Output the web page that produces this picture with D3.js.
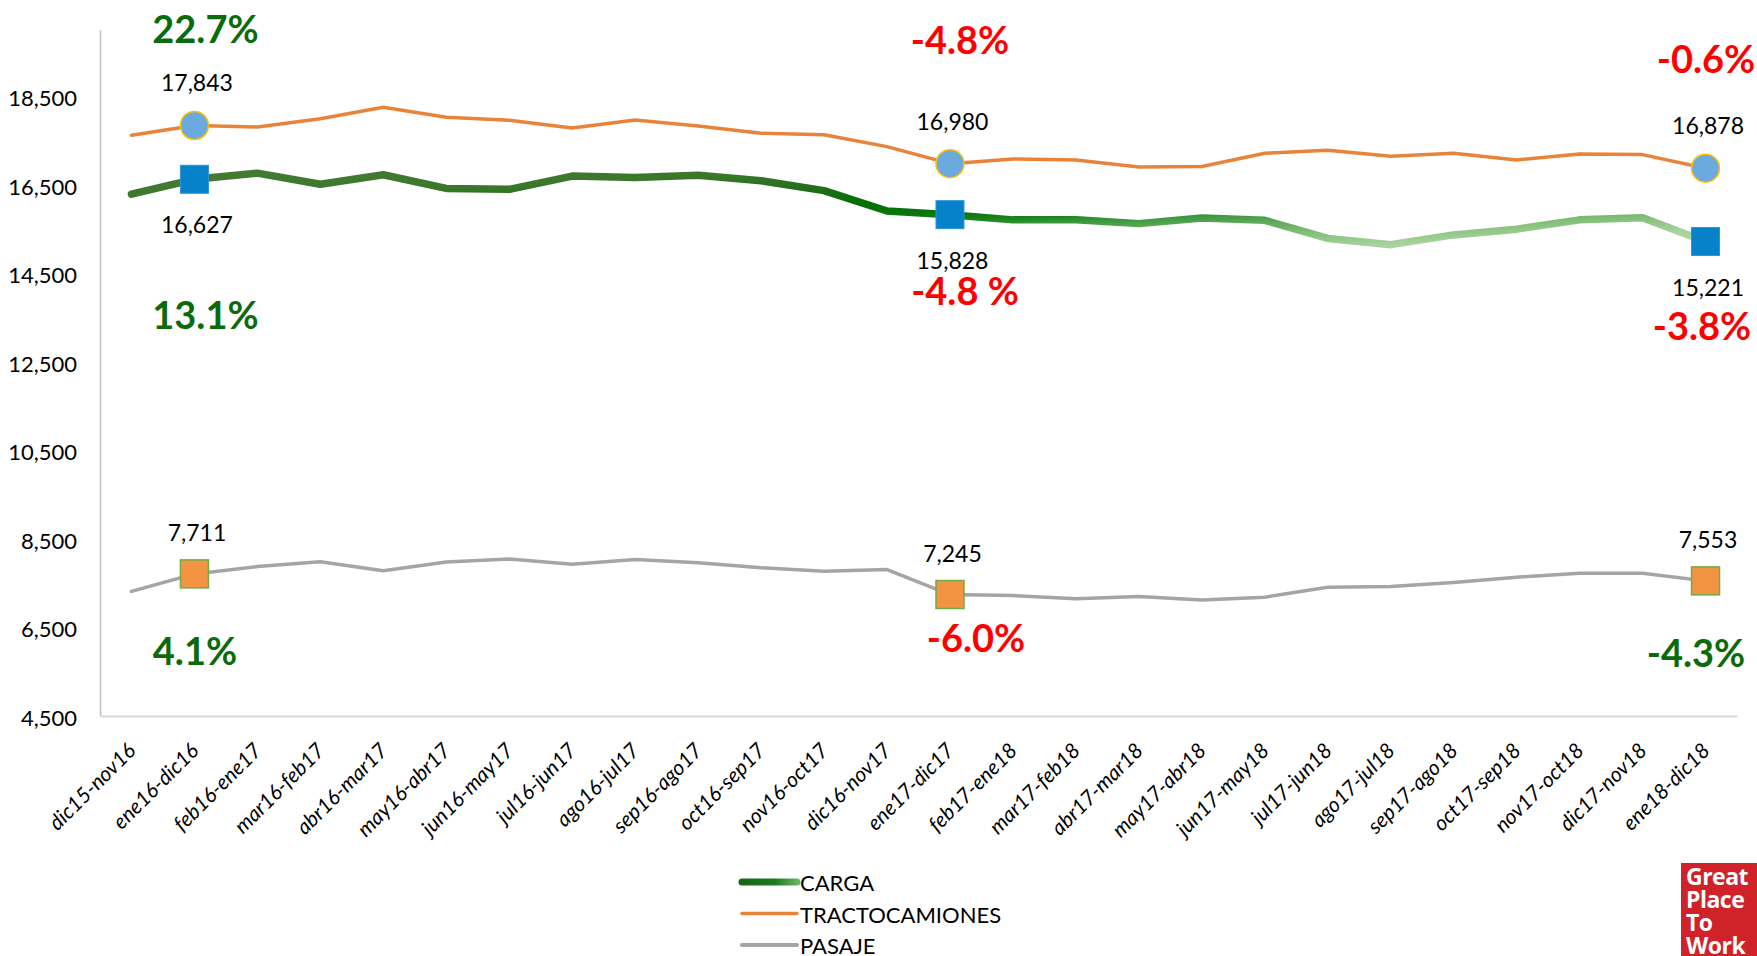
<!DOCTYPE html>
<html>
<head>
<meta charset="utf-8">
<script src="https://cdn.jsdelivr.net/npm/d3@7"></script>
<style>
  body { margin: 0; background: #fff; }
  svg { display: block; font-family: Lato, "Open Sans", sans-serif; }
</style>
</head>
<body>
<svg id="chart"></svg>
<script>
// rolling 12-month periods
const categories = ["dic15-nov16", "ene16-dic16", "feb16-ene17", "mar16-feb17", "abr16-mar17", "may16-abr17",
    "jun16-may17", "jul16-jun17", "ago16-jul17", "sep16-ago17", "oct16-sep17", "nov16-oct17", "dic16-nov17",
    "ene17-dic17", "feb17-ene18", "mar17-feb18", "abr17-mar18", "may17-abr18", "jun17-may18", "jul17-jun18",
    "ago17-jul18", "sep17-ago18", "oct17-sep18", "nov17-oct18", "dic17-nov18", "ene18-dic18"];

const carga = [16290, 16627, 16765, 16515, 16730, 16420, 16400, 16700, 16670, 16720, 16595, 16370, 15910,
    15828, 15710, 15715, 15625, 15750, 15700, 15290, 15150, 15370, 15500, 15710, 15760, 15221];
const tracto = [17620, 17843, 17810, 17995, 18255, 18030, 17960, 17785, 17965, 17830, 17665, 17635, 17365,
    16980, 17085, 17065, 16905, 16915, 17215, 17285, 17150, 17215, 17065, 17200, 17185, 16878];
const pasaje = [7315, 7711, 7876, 7985, 7780, 7982, 8045, 7930, 8035, 7960, 7850, 7772, 7810,
    7245, 7222, 7150, 7200, 7120, 7185, 7410, 7425, 7515, 7636, 7726, 7726, 7553];

const yTicks = [4500, 6500, 8500, 10500, 12500, 14500, 16500, 18500];

// highlighted points and their change labels
const markerIdx = [1, 13, 25];
const tractoPct = ["22.7%", "-4.8%", "-0.6%"];
const cargaPct = ["13.1%", "-4.8 %", "-3.8%"];
const pasajePct = ["4.1%", "-6.0%", "-4.3%"];

const seriesNames = ["CARGA", "TRACTOCAMIONES", "PASAJE"];

const color = {
    tracto: "#e8843a",
    pasaje: "#a5a5a5",
    good: "#0b6b0b",
    bad: "#ff0000",
    circle: "#6aaade",
    blueSq: "#0582ca",
    orangeSq: "#f29441"
};

const W = 1757, H = 956;
const svg = d3.select('#chart').attr('width', W).attr('height', H);

const x = d3.scaleBand().domain(categories).range([100, 1737]);
const y = d3.scaleLinear().domain([4500, 20000]).range([716, 30]);
const px = i => x(categories[i]) + x.bandwidth() / 2;

// gradient for the CARGA line
const defs = svg.append('defs');
const grad = defs.append('linearGradient')
    .attr('id', 'cargaGrad')
    .attr('x1', 0).attr('y1', 0).attr('x2', 1).attr('y2', 1);
[[0, '#457b33'], [0.2, '#3b782b'], [0.32, '#236e1b'], [0.45, '#007000'], [0.55, '#0c780c'],
 [0.6, '#1d861d'], [0.64, '#3c983c'], [0.7, '#5ea95a'], [0.8, '#86c17c'], [0.9, '#a8d39f'], [1, '#b0d8a6']]
    .forEach(s => grad.append('stop').attr('offset', s[0]).attr('stop-color', s[1]));

const legGrad = defs.append('linearGradient')
    .attr('id', 'legGrad').attr('gradientUnits', 'userSpaceOnUse')
    .attr('x1', 740).attr('y1', 0).attr('x2', 798).attr('y2', 0);
[[0, '#17661a'], [0.6, '#1c7a1c'], [1, '#6cb463']]
    .forEach(s => legGrad.append('stop').attr('offset', s[0]).attr('stop-color', s[1]));

//Y axis
const yAxis = svg.append('g')
    .attr('transform', 'translate(100,0)')
    .call(d3.axisLeft(y).tickValues(yTicks).tickFormat(d3.format(',')).tickSize(0).tickSizeOuter(0).tickPadding(23));
yAxis.select('.domain').attr('stroke', '#bfbfbf').attr('stroke-width', 1.5);
yAxis.selectAll('text')
    .attr('font-family', 'Lato').attr('font-size', 22).attr('fill', '#000').attr('dy', '0.42em');

//X axis
const xAxis = svg.append('g')
    .attr('transform', 'translate(0,716)')
    .call(d3.axisBottom(x).tickSize(0).tickSizeOuter(0));
xAxis.select('.domain').attr('stroke', '#d9d9d9').attr('stroke-width', 2);
xAxis.selectAll('text')
    .attr('font-family', 'Lato').attr('font-size', 21).attr('font-style', 'italic').attr('fill', '#000')
    .attr('x', 5.5).attr('y', 36).attr('dy', 0)
    .attr('text-anchor', 'end')
    .attr('transform', 'rotate(-45 5.5 36)');

//Lines
const line = d3.line().x((d, i) => px(i)).y(d => y(d));

svg.append('path').datum(pasaje)
    .attr('d', line).attr('fill', 'none')
    .attr('stroke', color.pasaje).attr('stroke-width', 3.5)
    .attr('stroke-linejoin', 'round').attr('stroke-linecap', 'round');

svg.append('path').datum(tracto)
    .attr('d', line).attr('fill', 'none')
    .attr('stroke', color.tracto).attr('stroke-width', 3.5)
    .attr('stroke-linejoin', 'round').attr('stroke-linecap', 'round');

svg.append('path').datum(carga)
    .attr('d', line).attr('fill', 'none')
    .attr('stroke', 'url(#cargaGrad)').attr('stroke-width', 7.5)
    .attr('stroke-linejoin', 'round').attr('stroke-linecap', 'round');

//Markers
const sq = 28;
svg.selectAll('.tractoMk').data(markerIdx).enter().append('circle')
    .attr('cx', i => px(i)).attr('cy', i => y(tracto[i])).attr('r', 14)
    .attr('fill', color.circle).attr('stroke', '#ffc000').attr('stroke-width', 1.5);

svg.selectAll('.cargaMk').data(markerIdx).enter().append('rect')
    .attr('x', i => px(i) - sq / 2).attr('y', i => y(carga[i]) - sq / 2)
    .attr('width', sq).attr('height', sq)
    .attr('fill', color.blueSq).attr('stroke', '#2f95d8').attr('stroke-width', 1);

svg.selectAll('.pasajeMk').data(markerIdx).enter().append('rect')
    .attr('x', i => px(i) - sq / 2).attr('y', i => y(pasaje[i]) - sq / 2)
    .attr('width', sq).attr('height', sq)
    .attr('fill', color.orangeSq).attr('stroke', '#70ad47').attr('stroke-width', 1.5);

//Value labels
const fmt = d3.format(',');
const valueLabels = [[tracto, -34], [carga, 54], [pasaje, -33]];
valueLabels.forEach(([vals, dy]) => {
    svg.selectAll(null).data(markerIdx).enter().append('text')
        .attr('x', i => px(i) + 2.5).attr('y', i => y(vals[i]) + dy)
        .attr('text-anchor', 'middle')
        .attr('font-size', 23).attr('fill', '#000')
        .text(i => fmt(vals[i]));
});

//Change labels: [dx, dy, good?] for each highlighted point
const pctLayout = [
    [tracto, tractoPct, [[11, -82, true], [10, -109.5, false], [0.5, -95, false]]],
    [carga, cargaPct, [[11, 150, true], [15, 90.5, false], [-3.5, 98.5, false]]],
    [pasaje, pasajePct, [[0.5, 91, true], [26, 57.5, false], [-9.5, 86, true]]]
];
pctLayout.forEach(([vals, texts, lay]) => {
    markerIdx.forEach((i, k) => {
        svg.append('text')
            .attr('x', px(i) + lay[k][0]).attr('y', y(vals[i]) + lay[k][1])
            .attr('text-anchor', 'middle')
            .attr('font-size', 38).attr('font-weight', 'bold')
            .attr('fill', lay[k][2] ? color.good : color.bad)
            .text(texts[k]);
    });
});

//Legend
const leg = svg.append('g');
const legStroke = ['url(#legGrad)', color.tracto, color.pasaje];
const legWidth = [7, 3.5, 4];
seriesNames.forEach((name, k) => {
    const ly = 882 + k * 31.5;
    leg.append('line')
        .attr('x1', 742).attr('x2', 797).attr('y1', ly).attr('y2', ly)
        .attr('stroke', legStroke[k]).attr('stroke-width', legWidth[k]).attr('stroke-linecap', 'round');
    leg.append('text')
        .attr('x', 800).attr('y', ly + 9)
        .attr('font-size', 22).attr('fill', '#000')
        .text(name);
});

//Logo
const logo = svg.append('g');
logo.append('rect').attr('x', 1681).attr('y', 863).attr('width', 80).attr('height', 100).attr('fill', '#cf2229');
["Great", "Place", "To", "Work"].forEach((t, k) => {
    logo.append('text')
        .attr('x', 1686).attr('y', 885 + k * 23)
        .attr('font-family', '"Open Sans"').attr('font-weight', 'bold').attr('font-size', 23)
        .attr('letter-spacing', -0.5)
        .attr('fill', '#fff')
        .text(t);
});
</script>
</body>
</html>
